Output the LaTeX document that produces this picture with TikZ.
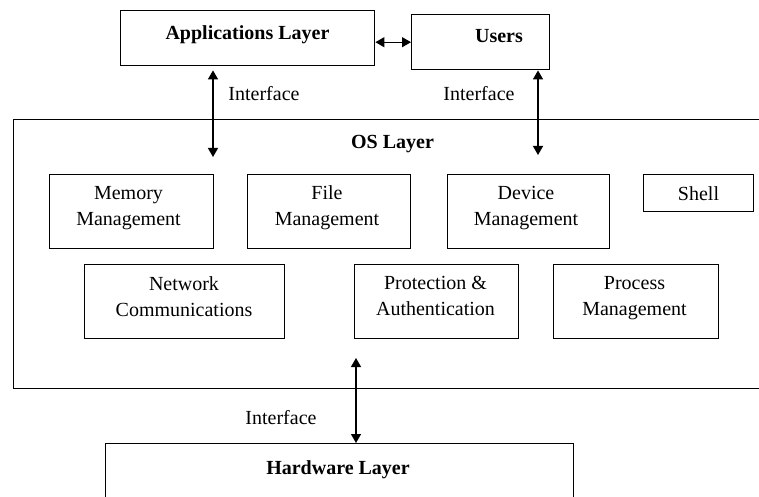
\documentclass[tikz,border=0pt]{standalone}
\usepackage{fontspec}
\setmainfont{Liberation Serif}
\usetikzlibrary{arrows.meta}
\begin{document}
\begin{tikzpicture}[x=1pt, y=-1pt,
  box/.style={draw, line width=1.4pt, inner sep=0pt, anchor=north west},
  txt/.style={font=\fontsize{20}{26}\selectfont, align=center, inner sep=0pt},
  ttl/.style={font=\bfseries\fontsize{20}{26}\selectfont, inner sep=0pt},
  biarrow/.style={line width=1.3pt, {Triangle[length=9pt,width=10pt]}-{Triangle[length=9pt,width=10pt]}}]
\clip (0,0) rectangle (759,497);
\fill[white] (0,0) rectangle (759,497);

% layers
\node[box, minimum width=254, minimum height=55] (app) at (120,10) {};
\node[box, minimum width=138, minimum height=55] (users) at (411,14) {};
\node[box, minimum width=770, minimum height=269] (os) at (13,119) {};
\node[box, minimum width=468, minimum height=80] (hw) at (105,443) {};

\node[ttl, anchor=base] (appt) at (247.5,40) {Applications Layer};
\node[ttl, anchor=base] (userst) at (499,43) {Users};
\node[ttl, anchor=base] (ost) at (392.5,149) {OS Layer};
\node[ttl, anchor=base] (hwt) at (338,474) {Hardware Layer};

% OS components
\node[box, minimum width=164, minimum height=74] (mem) at (49,174) {};
\node[box, minimum width=163, minimum height=74] (file) at (247,174) {};
\node[box, minimum width=162, minimum height=74] (dev) at (447,174) {};
\node[box, minimum width=110, minimum height=37] (shell) at (643,174) {};
\node[box, minimum width=200, minimum height=74] (net) at (84,264) {};
\node[box, minimum width=164, minimum height=74] (prot) at (354,264) {};
\node[box, minimum width=165, minimum height=74] (proc) at (553,264) {};

\node[txt, anchor=north] (memt) at (128.5,185.8) {Memory\\Management};
\node[txt, anchor=north] (filet) at (327,185.8) {File\\Management};
\node[txt, anchor=north] (devt) at (526,185.8) {Device\\Management};
\node[txt, anchor=base] (shellt) at (698.5,200) {Shell};
\node[txt, anchor=north] (nett) at (184,276.3) {Network\\Communications};
\node[txt, anchor=north] (prott) at (435.5,276.3) {Protection \&\\Authentication};
\node[txt, anchor=north] (proct) at (634.5,276.3) {Process\\Management};

% interfaces
\coordinate (ia) at (213,157);
\coordinate (ib) at (538,155);
\coordinate (ic) at (356,358);

\draw[biarrow] (users.west -| app.east) -- (users.west);
\draw[biarrow, shorten <=4pt] (ia |- app.south) -- (ia);
\draw[biarrow] (ib |- users.south) -- (ib);
\draw[biarrow] (ic) -- (ic |- hw.north);

\node[txt, anchor=base] (ifa) at (264,100.5) {Interface};
\node[txt, anchor=base] (ifb) at (479,100.5) {Interface};
\node[txt, anchor=base] (ifc) at (281,424) {Interface};
\end{tikzpicture}
\end{document}
